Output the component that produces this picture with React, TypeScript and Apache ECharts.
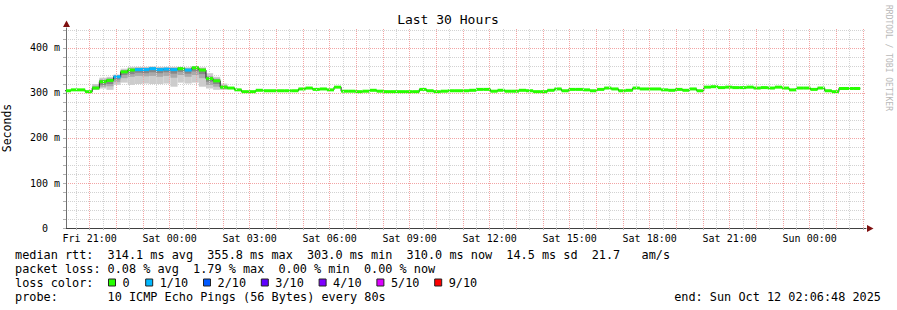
import { useEffect, useRef } from 'react';
import * as echarts from 'echarts';

// ---------- data ----------
// x axis in hours counted from Fri 00:00 (local)
const START_H = 20 + 6 / 60 + 48 / 3600; // Fri 20:06:48
const END_H = START_H + 30; // Sun 02:06:48
const FIRST_STEP_END_H = 20.297;
const STEP_H = 16 / 60; // 960 s consolidation step
const DAY_NAMES = ['Fri', 'Sat', 'Sun'];
const X_LABEL_HOURS = [21, 24, 27, 30, 33, 36, 39, 42, 45, 48];

// median rtt per step (ms)
const medianMs = [
  305, 307, 307, 303, 311, 325, 328, 336, 347, 351,
  352, 352, 354, 352, 353, 352, 354, 351, 355.8, 351,
  332, 327, 313, 311, 307, 303, 303, 306, 305, 305,
  305, 305, 305, 309, 311, 308, 309, 307, 313, 304,
  304, 303, 304, 306, 304, 303, 303, 303, 303, 303,
  308, 305, 303, 304, 305, 305, 305, 306, 308, 308,
  304, 306, 304, 304, 306, 305, 303, 303, 306, 309,
  305, 308, 308, 307, 305, 308, 311, 309, 305, 306,
  311, 309, 309, 309, 307, 306, 308, 306, 309, 305,
  313, 314, 312, 313, 312, 312, 313, 311, 312, 311,
  313, 311, 307, 311, 311, 308, 311, 305, 303, 310,
  310, 310,
];

// pings lost (of 10) per step
const lostPings = [
  0, 0, 0, 0, 0, 0, 0, 1, 0, 0,
  1, 1, 1, 1, 1, 1, 0, 1, 0, 0,
  0, 0, 0, 0, 0, 0, 0, 0, 0, 0,
  0, 0, 0, 0, 0, 0, 0, 0, 0, 0,
  0, 0, 0, 0, 0, 0, 0, 0, 0, 0,
  0, 0, 0, 0, 0, 0, 0, 0, 0, 0,
  0, 0, 0, 0, 0, 0, 0, 0, 0, 0,
  0, 0, 0, 0, 0, 0, 0, 0, 0, 0,
  0, 0, 0, 0, 0, 0, 0, 0, 0, 0,
  0, 0, 0, 0, 0, 0, 0, 0, 0, 0,
  0, 0, 0, 0, 0, 0, 0, 0, 0, 0,
  0, 0,
];

// smoke (ping spread) for the steps where it shows
const SMOKE_FIRST_STEP = 4;
const smokeMin = [307, 310, 307, 318, 323, 318, 320, 321, 320, 320, 321, 314, 323, 321, 323, 314, 310, 307, 307, 309];
const smokeMax = [320, 334, 336, 341, 354, 358, 358, 358, 359, 358, 358, 358, 358, 357, 360, 357, 344, 336, 321, 313];
const smokeMidLo = [308, 314, 315, 324, 333, 336, 338, 337, 338, 336, 338, 334, 340, 336, 340, 333, 318, 314, 309, 309];
const smokeMidHi = [316, 330, 333, 339, 351, 355, 356, 356, 357, 356, 356, 356, 357, 355, 359, 355, 338, 332, 317, 312];
const smokeCoreLo = [309, 318, 320, 330, 340, 342, 345, 344, 346, 344, 346, 343, 347, 343, 348, 342, 325, 320, 311, 310];
const smokeCoreHi = [313, 328, 331, 338, 349, 353, 354, 354, 356, 354, 355, 354, 356, 353, 358, 353, 335, 330, 315, 312];

const lossCounts = [0, 1, 2, 3, 4, 5, 9];
const lossLabels = ['0', '1/10', '2/10', '3/10', '4/10', '5/10', '9/10'];
const lossColors = ['#26ff00', '#00b8ff', '#0059ff', '#5e00ff', '#7e00ff', '#dd00ff', '#ff0000'];

const rttStats = ['314.1 ms avg', '355.8 ms max', '303.0 ms min', '310.0 ms now', '14.5 ms sd'];
const amsStats = ['21.7', 'am/s'];
const lossStats = ['0.08 % avg', '1.79 % max', '0.00 % min', '0.00 % now'];
const probeText = '10 ICMP Echo Pings (56 Bytes) every 80s';
const endText = 'end: Sun Oct 12 02:06:48 2025';
const titleText = 'Last 30 Hours';
const watermark = 'RRDTOOL / TOBI OETIKER';

// ---------- style ----------
const MONO = "'DejaVu Sans Mono', monospace";
const GRID_RED = '#f2a4a4';
const GRID_GRAY = '#d2d2d2';

const stepEnd = (k: number) => FIRST_STEP_END_H + k * STEP_H;
const stepStart = (k: number) => stepEnd(k) - STEP_H;

export default function App() {
  const ref = useRef<HTMLDivElement>(null);

  useEffect(() => {
    if (!ref.current) return;
    const chart = echarts.init(ref.current, undefined, { renderer: 'svg' });

    const bandData = medianMs.map((v, k) => [stepStart(k), stepEnd(k), v, lostPings[k]]);
    const stepLine = [[stepStart(0), medianMs[0]], ...medianMs.map((v, k) => [stepEnd(k), v])];
    const smokeData = smokeMin.map((mn, i) => {
      const k = SMOKE_FIRST_STEP + i;
      return [stepStart(k), stepEnd(k), mn, smokeMax[i], smokeMidLo[i], smokeMidHi[i], smokeCoreLo[i], smokeCoreHi[i]];
    });

    const gridHours: number[] = [];
    for (let h = Math.ceil(START_H * 2) / 2; h < END_H; h += 0.5) gridHours.push(h);

    const fmtHour = (v: number) => {
      const d = DAY_NAMES[Math.floor(v / 24)];
      const hh = String(Math.round(v) % 24).padStart(2, '0');
      return `${d} ${hh}:00`;
    };

    const COL = 7.12;
    const X0 = 15;
    const text = (t: string, x: number, y: number, extra: any = {}) => ({
      type: 'text',
      silent: true,
      style: {
        text: t, x, y, fill: '#000', font: `11.85px ${MONO}`,
        textAlign: 'left', textVerticalAlign: 'middle', ...extra,
      },
    });

    const graphics: any[] = [];
    graphics.push({
      type: 'text', silent: true,
      style: { text: titleText, x: 448, y: 19, fill: '#000', font: `13px ${MONO}`, textAlign: 'center', textVerticalAlign: 'middle' },
    });
    graphics.push({
      type: 'text', silent: true, x: 888, y: 58, rotation: -Math.PI / 2,
      style: { text: watermark, x: 0, y: 0, fill: '#b8b8b8', font: `8px ${MONO}`, textAlign: 'center', textVerticalAlign: 'middle' },
    });
    // arrows
    graphics.push({ type: 'polygon', silent: true, shape: { points: [[66.5, 20.5], [63, 27], [70, 27]] }, style: { fill: '#7f1010' } });
    graphics.push({ type: 'polygon', silent: true, shape: { points: [[873.5, 228.5], [867, 225], [867, 232]] }, style: { fill: '#7f1010' } });

    // legend rows
    const rows = [254.7, 268.7, 282.7, 296.7];
    graphics.push(text('median rtt:', X0, rows[0]));
    const rttCols = [13, 27, 41, 55, 69];
    rttStats.forEach((s, i) => graphics.push(text(s, X0 + rttCols[i] * COL, rows[0])));
    graphics.push(text(amsStats[0], X0 + 81 * COL, rows[0]));
    graphics.push(text(amsStats[1], X0 + 88 * COL, rows[0]));
    graphics.push(text('packet loss:', X0, rows[1]));
    lossStats.forEach((s, i) => graphics.push(text(s, X0 + (13 + 12 * i) * COL, rows[1])));
    graphics.push(text('loss color:', X0, rows[2]));
    lossLabels.forEach((lab, i) => {
      const bx = i === 0 ? 108.5 : 145.7 + (i - 1) * 57.8;
      graphics.push({
        type: 'rect', silent: true,
        shape: { x: bx, y: 279, width: 7, height: 7 },
        style: { fill: lossColors[i], stroke: '#222', lineWidth: 1 },
      });
      graphics.push(text(lab, bx + 14, rows[2]));
    });
    graphics.push(text('probe:', X0, rows[3]));
    graphics.push(text(probeText, X0 + 13 * COL, rows[3]));
    graphics.push(text(endText, 881, rows[3], { textAlign: 'right' }));

    chart.setOption({
      animation: false,
      backgroundColor: '#ffffff',
      grid: { left: 66, top: 28, width: 800, height: 200, containLabel: false, outerBoundsMode: 'none' },
      xAxis: {
        type: 'value',
        min: START_H,
        max: END_H,
        axisLine: { show: true, lineStyle: { color: '#404040', width: 1 } },
        axisTick: { show: true, customValues: gridHours, length: 2, lineStyle: { color: '#b0b0b0' } },
        axisLabel: {
          customValues: X_LABEL_HOURS,
          formatter: (v: number) => fmtHour(v),
          fontFamily: MONO, fontSize: 10, color: '#000', margin: 5,
        },
        splitLine: { show: false },
      },
      yAxis: {
        type: 'value',
        min: 0,
        max: 444.444,
        interval: 20,
        name: 'Seconds',
        nameLocation: 'middle',
        nameGap: 53,
        nameRotate: 90,
        nameTextStyle: { fontFamily: MONO, fontSize: 11.5, color: '#000' },
        axisLine: { show: true, lineStyle: { color: '#707070', width: 1 } },
        axisTick: { show: true, length: 3, lineStyle: { color: '#b0b0b0' } },
        axisLabel: {
          showMaxLabel: false,
          formatter: (v: number) => (v % 100 === 0 ? (v === 0 ? '0' : `${v} m`) : ''),
          fontFamily: MONO, fontSize: 10, color: '#000', align: 'center', margin: 21,
        },
        splitLine: {
          show: true,
          showMaxLine: false,
          lineStyle: { color: [GRID_RED, GRID_GRAY, GRID_GRAY, GRID_GRAY, GRID_GRAY], type: [1, 1], width: 1 },
        },
      },
      graphic: graphics,
      series: [
        {
          type: 'line',
          data: [],
          z: 1,
          silent: true,
          markLine: {
            silent: true,
            symbol: ['none', 'none'],
            label: { show: false },
            emphasis: { disabled: true },
            data: gridHours.map((h) => ({
              xAxis: h,
              lineStyle: { color: Math.abs(h - Math.round(h)) < 1e-6 ? GRID_RED : GRID_GRAY, type: [1, 1], width: 1 },
            })),
          },
        },
        {
          type: 'custom',
          z: 2,
          silent: true,
          clip: true,
          data: smokeData,
          encode: { x: [0, 1], y: [2, 3] },
          renderItem: (params: any, api: any) => {
            const t0 = api.value(0), t1 = api.value(1);
            const cs = params.coordSys;
            const mk = (lo: number, hi: number, fill: string) => {
              const a = api.coord([t0, hi]);
              const b = api.coord([t1, lo]);
              const x0 = Math.max(a[0], cs.x), x1 = Math.min(b[0], cs.x + cs.width);
              return { type: 'rect', shape: { x: x0, y: a[1], width: x1 - x0, height: b[1] - a[1] }, style: { fill } };
            };
            return {
              type: 'group',
              children: [
                mk(api.value(2), api.value(3), '#cccccc'),
                mk(api.value(4), api.value(5), '#aaaaaa'),
                mk(api.value(6), api.value(7), '#878787'),
              ],
            };
          },
        },
        {
          type: 'line',
          z: 3,
          silent: true,
          step: 'start',
          showSymbol: false,
          symbol: 'none',
          data: stepLine,
          lineStyle: { color: '#202020', width: 1 },
        },
        {
          type: 'custom',
          z: 4,
          silent: true,
          clip: true,
          data: bandData,
          encode: { x: [0, 1], y: 2 },
          renderItem: (params: any, api: any) => {
            const t0 = api.value(0), t1 = api.value(1), v = api.value(2), lost = api.value(3);
            const p0 = api.coord([t0, v]);
            const p1 = api.coord([t1, v]);
            const cs = params.coordSys;
            const x0 = Math.max(p0[0], cs.x), x1 = Math.min(p1[0], cs.x + cs.width);
            const li = Math.max(0, lossCounts.indexOf(lost));
            return {
              type: 'rect',
              shape: { x: x0, y: p0[1] - 1.5, width: x1 - x0, height: 3 },
              style: { fill: lossColors[li] },
            };
          },
        },
      ],
    });

    return () => chart.dispose();
  }, []);

  return <div ref={ref} style={{ width: 897, height: 310, position: 'absolute', left: 0, top: 0, background: '#fff' }} />;
}
